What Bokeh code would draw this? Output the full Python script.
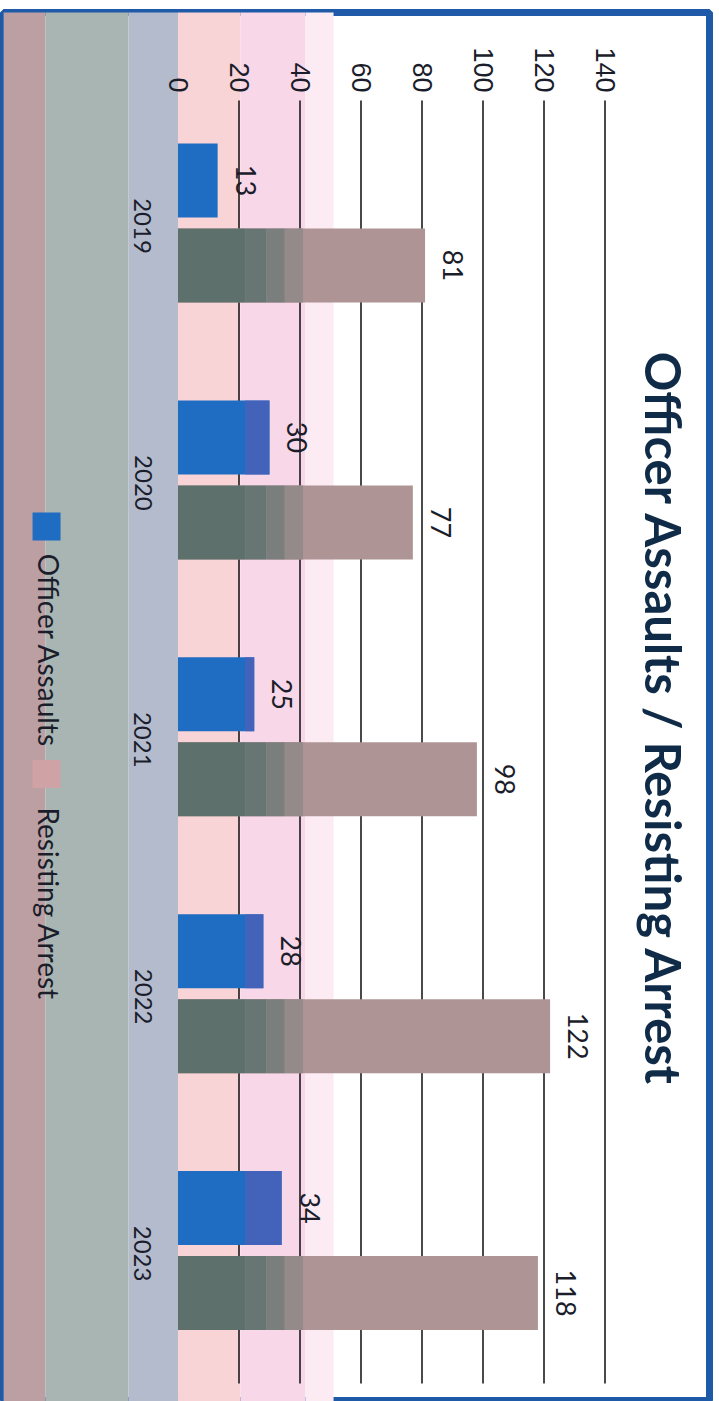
import numpy as np
from math import pi
from bokeh.plotting import figure
from bokeh.models import Range1d, LinearAxis, FixedTicker
from bokeh.core.properties import value
from bokeh.embed import file_html
from bokeh.resources import INLINE

# ---------------- data ----------------
years = ["2019", "2020", "2021", "2022", "2023"]
officer_assaults = [13, 30, 25, 28, 34]
resisting_arrest = [81, 77, 98, 122, 118]
value_ticks = [0, 20, 40, 60, 80, 100, 120, 140]
series_names = ["Officer Assaults", "Resisting Arrest"]
title_text = "Officer Assaults / Resisting Arrest"

# ---------------- style ----------------
BLUE = "#1f6cc3"
BLUE2 = "#4c62b9"
MAUVE = "#ae9495"
TEXT = "#1b1d2b"
TITLE_C = "#0f2b47"
BORDER = "#1f5aa8"

idx = np.arange(len(years))
oa = np.array(officer_assaults, dtype=float)
ra = np.array(resisting_arrest, dtype=float)
bar_h = 0.288
off = 0.1654

p = figure(width=719, height=1401, output_backend="svg", toolbar_location=None,
           x_range=Range1d(-57.21, 174.26), y_range=Range1d(4.5874, -0.8194),
           min_border_left=3, min_border_top=12, min_border_right=10, min_border_bottom=0,
           x_axis_location=None, y_axis_location=None)
p.grid.visible = False
p.background_fill_color = "white"
p.border_fill_color = "white"
p.outline_line_color = BORDER
p.outline_line_width = 7

# background bands (scanned gradient)
band_left = [-57.3, -43.4, -16.2, 0.0, 20.5, 41.8]
band_right = [-43.4, -16.2, 0.0, 20.5, 41.8, 51.0]
band_colors = ["#bc9fa3", "#a9b5b2", "#b3bbcd", "#f9d4d6", "#f8d7e8", "#fcebf3"]
p.quad(left=band_left, right=band_right, bottom=4.6, top=-0.83,
       fill_color=band_colors, line_color=None)

# grid lines
gx = value_ticks[1:]
p.segment(x0=gx, x1=gx, y0=[-0.477] * len(gx), y1=[len(years) - 1 + 0.517] * len(gx),
          line_color="#1c1c1c", line_width=1.6)

# officer assaults bars
p.hbar(y=idx - off, left=0, right=oa, height=bar_h, fill_color=BLUE, line_color=None)
p.hbar(y=idx - off, left=22, right=np.maximum(oa, 22), height=bar_h,
       fill_color=BLUE2, line_color=None, fill_alpha=0.8)

# resisting arrest bars (dark-to-mauve scanned shading)
p.hbar(y=idx + off, left=0, right=ra, height=bar_h, fill_color=MAUVE, line_color=None)
shade_edges = [0, 22, 29, 35, 41]
shade_cols = ["#5e706c", "#687673", "#7a7e7c", "#938a89"]
for a, b, c in zip(shade_edges[:-1], shade_edges[1:], shade_cols):
    p.hbar(y=idx + off, left=np.minimum(ra, a), right=np.minimum(ra, b), height=bar_h,
           fill_color=c, line_color=None)

# value labels
lab_kw = dict(angle=-pi / 2, text_align="center", text_baseline="alphabetic",
              text_font=value("Lato"), text_font_size="27px", text_color=TEXT, x_offset=28)
p.text(x=oa, y=idx - off, text=[str(v) for v in officer_assaults], **lab_kw)
p.text(x=ra, y=idx + off, text=[str(v) for v in resisting_arrest], **lab_kw)

# value axis (top)
xaxis = LinearAxis(fixed_location=-0.477, ticker=FixedTicker(ticks=value_ticks),
                   major_label_orientation=-pi / 2, axis_line_color=None,
                   major_tick_line_color=None, minor_tick_line_color=None,
                   major_tick_in=0, major_tick_out=0, major_label_standoff=8,
                   major_label_text_font="Liberation Sans", major_label_text_font_size="27px",
                   major_label_text_color=TEXT)
p.add_layout(xaxis, "above")

# category axis (years); label box anchors at its reading end, so ticks sit a bit lower
year_ticks = [float(i) + 0.12 for i in idx]
yaxis = LinearAxis(fixed_location=0, ticker=FixedTicker(ticks=year_ticks),
                   major_label_overrides={t: y for t, y in zip(year_ticks, years)},
                   major_label_orientation=-pi / 2, axis_line_color=None,
                   major_tick_line_color=None, minor_tick_line_color=None,
                   major_tick_in=0, major_tick_out=0, major_label_standoff=35,
                   major_label_text_font="Lato", major_label_text_font_size="24px",
                   major_label_text_color=TEXT)
p.add_layout(yaxis, "left")

# title
p.text(x=[159.5], y=[1.935], text=[title_text], angle=-pi / 2, text_align="center",
       text_baseline="alphabetic", text_font=value("Lato"), text_font_style="bold",
       text_font_size="49px", text_color=TITLE_C)

# legend (rotated)
legend_colors = [BLUE, "#cfa3a5"]
p.rect(x=[-43.1, -43.1], y=[1.181, 2.145], width=28, height=28,
       width_units="screen", height_units="screen", fill_color=legend_colors, line_color=None)
p.text(x=[-42.4, -42.4], y=[1.287, 2.275], text=series_names, angle=-pi / 2,
       text_align="left", text_baseline="alphabetic", text_font=value("Lato"),
       text_font_size="28px", text_color=TEXT)

open("out.html", "w").write(file_html(p, INLINE))
